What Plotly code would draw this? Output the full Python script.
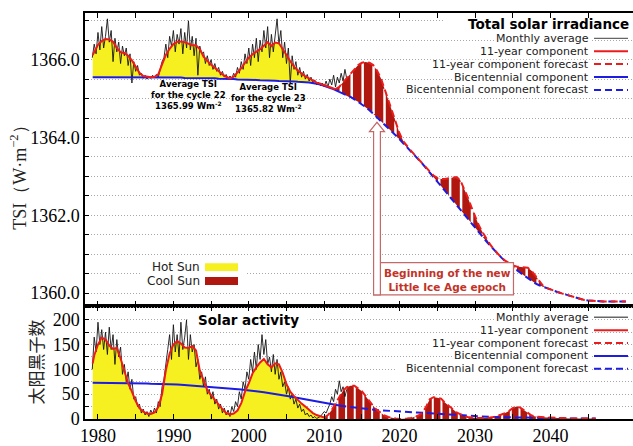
import numpy as np
import plotly.graph_objects as go

# ---------------- data ----------------
# Component curves sampled every half year (first sample at 1979.3)
comp_years = [1979.3] + [1979.5 + 0.5 * k for k in range(142)]          # -> 2050.0

tsi_11yr = [1366.12,
    1366.20, 1366.38, 1366.48, 1366.53, 1366.52, 1366.46, 1366.30, 1366.19, 1366.17, 1366.10,
    1365.98, 1365.80, 1365.66, 1365.58, 1365.56, 1365.55, 1365.56, 1365.62, 1365.88, 1366.12,
    1366.28, 1366.40, 1366.46, 1366.47, 1366.45, 1366.40, 1366.37, 1366.37, 1366.27, 1366.08,
    1365.97, 1365.87, 1365.79, 1365.70, 1365.62, 1365.56, 1365.52, 1365.56, 1365.66, 1365.78,
    1365.92, 1366.05, 1366.14, 1366.20, 1366.27, 1366.36, 1366.45, 1366.35, 1366.44, 1366.42,
    1366.28, 1366.12, 1365.96, 1365.82, 1365.72, 1365.64, 1365.57, 1365.52, 1365.46, 1365.41,
    1365.38, 1365.35, 1365.31, 1365.27, 1365.24, 1365.30, 1365.42, 1365.53, 1365.65, 1365.77,
    1365.86, 1365.92, 1365.94, 1365.92, 1365.86, 1365.72, 1365.53, 1365.25, 1364.95, 1364.65,
    1364.38, 1364.10, 1363.90, 1363.77, 1363.66, 1363.55, 1363.44, 1363.33, 1363.22, 1363.11,
    1363.02, 1362.96, 1362.93, 1362.93, 1362.95, 1362.97, 1362.98, 1362.92, 1362.72, 1362.48,
    1362.22, 1361.96, 1361.74, 1361.56, 1361.40, 1361.25, 1361.12, 1361.01, 1360.91, 1360.83,
    1360.76, 1360.71, 1360.68, 1360.67, 1360.67, 1360.65, 1360.57, 1360.44, 1360.30, 1360.19,
    1360.13, 1360.09, 1360.05, 1360.02, 1359.99, 1359.96, 1359.93, 1359.90, 1359.87, 1359.84,
    1359.82, 1359.81, 1359.80, 1359.79, 1359.79, 1359.78, 1359.78, 1359.78, 1359.78, 1359.78,
    1359.78, 1359.78]

tsi_bicent = [1365.55,
    1365.55, 1365.55, 1365.55, 1365.55, 1365.55, 1365.55, 1365.55, 1365.55, 1365.55, 1365.55,
    1365.55, 1365.55, 1365.55, 1365.55, 1365.55, 1365.54, 1365.54, 1365.54, 1365.54, 1365.54,
    1365.54, 1365.54, 1365.54, 1365.54, 1365.53, 1365.53, 1365.53, 1365.53, 1365.53, 1365.52,
    1365.52, 1365.52, 1365.52, 1365.51, 1365.51, 1365.50, 1365.50, 1365.50, 1365.49, 1365.49,
    1365.49, 1365.49, 1365.48, 1365.48, 1365.47, 1365.47, 1365.46, 1365.46, 1365.46, 1365.45,
    1365.45, 1365.45, 1365.44, 1365.44, 1365.43, 1365.43, 1365.42, 1365.41, 1365.40, 1365.38,
    1365.36, 1365.33, 1365.30, 1365.26, 1365.22, 1365.17, 1365.13, 1365.08, 1365.04, 1364.98,
    1364.92, 1364.85, 1364.78, 1364.70, 1364.61, 1364.52, 1364.43, 1364.33, 1364.24, 1364.14,
    1364.05, 1363.95, 1363.85, 1363.75, 1363.65, 1363.55, 1363.44, 1363.33, 1363.21, 1363.10,
    1362.98, 1362.86, 1362.75, 1362.63, 1362.51, 1362.39, 1362.27, 1362.15, 1362.03, 1361.91,
    1361.80, 1361.68, 1361.56, 1361.45, 1361.33, 1361.22, 1361.11, 1361.01, 1360.91, 1360.82,
    1360.74, 1360.66, 1360.59, 1360.52, 1360.45, 1360.38, 1360.31, 1360.25, 1360.20, 1360.16,
    1360.12, 1360.08, 1360.05, 1360.02, 1359.99, 1359.96, 1359.93, 1359.90, 1359.87, 1359.84,
    1359.82, 1359.81, 1359.80, 1359.79, 1359.79, 1359.78, 1359.78, 1359.78, 1359.78, 1359.78,
    1359.78, 1359.78]

ssn_years = [1979.3] + [1979.5 + 0.5 * k for k in range(134)]           # -> 2046.0

ssn_11yr = [112,
    128, 150, 164, 160, 148, 141, 143, 122, 95, 72,
    55, 36, 22, 15, 11, 10, 13, 24, 50, 98,
    132, 150, 157, 152, 144, 143, 147, 138, 98, 76,
    58, 48, 38, 29, 20, 12, 9, 11, 17, 32,
    55, 72, 92, 104, 114, 121, 110, 104, 112, 110,
    93, 70, 55, 46, 38, 31, 25, 18, 12, 8,
    5, 3, 8, 18, 32, 46, 57, 64, 67, 67,
    62, 56, 46, 35, 26, 18, 12, 7, 4, 2,
    1, 0, 0, 1, 2, 4, 7, 12, 24, 40,
    44, 43, 41, 33, 26, 19, 14, 10, 7, 4,
    3, 2, 2, 2, 2, 3, 4, 6, 9, 12,
    16, 22, 25, 23, 18, 12, 7, 5, 4, 3,
    3, 3, 2, 2, 2, 1, 1, 1, 1, 1,
    1, 1, 1, 1]

ssn_bicent = [73,
    73, 73, 73, 73, 73, 73, 73, 72.5, 72.5, 72.5,
    72, 72, 72, 71.5, 71.5, 71, 71, 71, 70.5, 70.5,
    70, 70, 69.5, 69, 68.5, 68, 67.5, 67, 66.5, 66,
    65.5, 65, 64.5, 64, 63, 62.5, 61.5, 61, 60, 59.5,
    58.5, 58, 57, 56, 55, 54, 53, 52, 50.5, 49.5,
    48, 47, 45.5, 44, 42.5, 41, 39.5, 38, 36.5, 35,
    33.5, 32, 31, 29.5, 28, 27, 26, 25, 24, 23,
    22, 21, 20.5, 19.5, 19, 18, 17.5, 17, 16.5, 16,
    15.5, 15, 14.5, 14, 13.5, 13, 12.5, 12, 12, 11.5,
    11, 10.5, 10, 9.5, 9, 8.5, 8, 7.5, 7, 6.5,
    6, 5.5, 5, 4.8, 4.5, 4.2, 4, 3.8, 3.5, 3.2,
    3, 2.8, 2.6, 2.4, 2.2, 2, 1.9, 1.8, 1.7, 1.6,
    1.5, 1.4, 1.3, 1.2, 1.1, 1, 1, 1, 1, 1,
    1, 1, 1, 1]

# Observed series, quarterly samples
month_years = [1979.25 + 0.25 * k for k in range(136)]                  # -> 2013.0

tsi_monthly = [
    1366.05, 1366.40, 1366.15,
    1366.70, 1366.25, 1366.85, 1366.30,
    1366.60, 1367.05, 1366.45, 1366.75,
    1365.95, 1366.55, 1366.20, 1366.45,
    1365.90, 1366.35, 1366.10, 1366.30,
    1365.85, 1366.15, 1365.40, 1365.95,
    1365.70, 1365.85, 1365.60, 1365.65,
    1365.52, 1365.60, 1365.50, 1365.58,
    1365.52, 1365.60, 1365.53, 1365.62,
    1365.55, 1365.75, 1365.95, 1366.05,
    1366.40, 1366.05, 1366.60, 1366.35,
    1366.75, 1366.20, 1366.65, 1366.40,
    1366.80, 1366.15, 1366.70, 1366.30,
    1367.00, 1366.25, 1366.60, 1366.10,
    1366.55, 1365.60, 1366.35, 1366.15,
    1366.20, 1365.90, 1366.10, 1365.85,
    1366.00, 1365.75, 1365.90, 1365.70,
    1365.80, 1365.60, 1365.70, 1365.55,
    1365.62, 1365.50, 1365.58, 1365.52,
    1365.65, 1365.55, 1365.80, 1365.65,
    1365.95, 1365.75, 1366.15, 1365.90,
    1366.30, 1365.85, 1366.40, 1366.05,
    1366.55, 1365.95, 1366.50, 1366.20,
    1366.75, 1366.30, 1366.85, 1366.05,
    1366.65, 1366.20, 1366.70, 1367.05,
    1366.40, 1366.75, 1366.05, 1366.45,
    1365.90, 1366.30, 1365.40, 1366.10,
    1365.75, 1365.95, 1365.60, 1365.80,
    1365.55, 1365.70, 1365.50, 1365.62,
    1365.45, 1365.55, 1365.40, 1365.48,
    1365.35, 1365.42, 1365.33, 1365.40,
    1365.30, 1365.45, 1365.30, 1365.50,
    1365.35, 1365.60, 1365.30, 1365.55,
    1365.40, 1365.65, 1365.45, 1365.75,
    1365.50]

ssn_monthly = [
    100, 165, 135,
    195, 150, 180, 140,
    175, 130, 185, 140,
    170, 110, 160, 125,
    145, 90, 110, 75,
    95, 60, 80, 40,
    45, 25, 30, 12,
    20, 8, 15, 5,
    18, 10, 22, 12,
    35, 25, 65, 80,
    115, 140, 170, 120,
    190, 135, 170, 125,
    195, 140, 165, 200,
    120, 170, 135, 150,
    105, 120, 80, 95,
    65, 85, 50, 60,
    40, 55, 30, 40,
    20, 30, 12, 22,
    8, 18, 5, 25,
    15, 35, 25, 55,
    40, 75, 60, 95,
    80, 120, 95, 135,
    100, 150, 120, 170,
    130, 160, 110, 125,
    95, 130, 90, 120,
    80, 95, 65, 75,
    50, 65, 40, 50,
    30, 40, 22, 30,
    15, 20, 8, 12,
    5, 8, 2, 5,
    1, 3, 5, 10,
    15, 12, 22, 30,
    45, 35, 60, 50,
    77, 55, 65, 45,
    60]

TSI_OBS_END = 2011.5       # end of the observed 11-year TSI component
SSN_OBS_END = 2010.0       # end of the observed 11-year sunspot component
BICENT_OBS_END = 2012.0    # end of the observed bicentennial component

cycle_notes = [
    ("Average TSI<br>for the cycle 22<br>1365.99 Wm<sup>-2</sup>"),
    ("Average TSI<br>for the cycle 23<br>1365.82 Wm<sup>-2</sup>"),
]

x_labels = [1980, 1990, 2000, 2010, 2020, 2030, 2040]
tsi_labels = [1360.0, 1362.0, 1364.0, 1366.0]
ssn_labels = [0, 50, 100, 150, 200]

# ---------------- styling ----------------
RED = "#ec1c1c"
BLUE = "#1c1ce2"
YELLOW = "#f6f020"
DARKRED = "#b0170f"
DASH = "7px,4px"
SERIF = "Liberation Serif"
SANS = "DejaVu Sans"
KEY_SIZE = 11
GRID = dict(gridcolor="#a8a8a8", griddash="1px,2px", gridwidth=1)

L, T, W, H = 85, 13, 548, 409          # plot area in pixels


def px(x):
    return (x - L) / W


def py(y):
    return (T + H - y) / H


SPLIT = py(308)

cy = np.array(comp_years)
sy = np.array(ssn_years)
tsi_r = np.array(tsi_11yr)
tsi_b = np.array(tsi_bicent)
ssn_r = np.array(ssn_11yr, dtype=float)
ssn_b = np.array(ssn_bicent, dtype=float)

t_obs = cy <= TSI_OBS_END + 1e-9
t_fc = cy >= TSI_OBS_END - 1e-9
tb_obs = cy <= BICENT_OBS_END + 1e-9
tb_fc = cy >= BICENT_OBS_END - 1e-9
s_obs = sy <= SSN_OBS_END + 1e-9
s_fc = sy >= SSN_OBS_END - 1e-9
sb_obs = sy <= BICENT_OBS_END + 1e-9
sb_fc = sy >= BICENT_OBS_END - 1e-9


def stripes(xs, top, bottom, start, stop, step, min_gap):
    sx, syy = [], []
    for s in np.arange(start, stop, step):
        t = float(np.interp(s, xs, top))
        b = float(np.interp(s, xs, bottom))
        if t - b > min_gap:
            sx += [s, s, None]
            syy += [b, t, None]
    return sx, syy


fig = go.Figure()


def line(x, y, color, width, dash="solid", xa="x", ya="y", fill=None, fillcolor=None):
    fig.add_trace(go.Scatter(
        x=list(x), y=list(y), mode="lines", xaxis=xa, yaxis=ya,
        line=dict(color=color, width=width, dash=dash),
        fill=fill, fillcolor=fillcolor, hoverinfo="skip", showlegend=False))


# ---- Total solar irradiance panel ----
# hot sun: between bicentennial and 11-year components (observed)
line(cy[t_obs], tsi_b[t_obs], "rgba(0,0,0,0)", 0)
line(cy[t_obs], tsi_r[t_obs], "rgba(0,0,0,0)", 0, fill="tonexty", fillcolor=YELLOW)
# cool sun: forecast excess
line(cy[t_fc], tsi_b[t_fc], "rgba(0,0,0,0)", 0)
line(cy[t_fc], tsi_r[t_fc], "rgba(0,0,0,0)", 0, fill="tonexty", fillcolor=DARKRED)
stx, sty = stripes(cy, tsi_r, tsi_b, 2012.2, 2050, 1.45, 0.03)
line(stx, sty, "white", 2.5)
line(month_years, tsi_monthly, "#151515", 0.9)
line(cy[tb_obs], tsi_b[tb_obs], BLUE, 2)
line(cy[tb_fc], tsi_b[tb_fc], BLUE, 2, DASH)
line(cy[t_obs], tsi_r[t_obs], RED, 2)
line(cy[t_fc], tsi_r[t_fc], RED, 2, DASH)

# ---- Solar activity panel ----
line(sy[s_obs], ssn_r[s_obs], "rgba(0,0,0,0)", 0, xa="x2", ya="y2", fill="tozeroy", fillcolor=YELLOW)
line(sy[s_fc], ssn_r[s_fc], "rgba(0,0,0,0)", 0, xa="x2", ya="y2", fill="tozeroy", fillcolor=DARKRED)
stx2, sty2 = stripes(sy, ssn_r, np.zeros_like(ssn_r), 2010.6, 2046, 1.15, 3)
line(stx2, sty2, "white", 2, xa="x2", ya="y2")
line(month_years, ssn_monthly, "#151515", 0.9, xa="x2", ya="y2")
line(sy[sb_obs], ssn_b[sb_obs], BLUE, 2, xa="x2", ya="y2")
line(sy[sb_fc], ssn_b[sb_fc], BLUE, 2, DASH, xa="x2", ya="y2")
line(sy[s_obs], ssn_r[s_obs], RED, 2, xa="x2", ya="y2")
line(sy[s_fc], ssn_r[s_fc], RED, 2, DASH, xa="x2", ya="y2")

# ---------------- axes ----------------
x_common = dict(
    range=[1978.28, 2050.95], tickmode="array", tickvals=x_labels,
    showgrid=False, zeroline=False,
    ticks="inside", ticklen=5, tickwidth=1.3, tickcolor="black",
    minor=dict(tick0=1985, dtick=10, ticks="inside", ticklen=5, tickwidth=1.3,
               tickcolor="black", showgrid=False),
    showline=True, linecolor="black", linewidth=1.5, mirror="allticks",
    tickfont=dict(family=SERIF, size=18, color="black"))
y_common = dict(
    showgrid=True, zeroline=False, tickmode="array",
    ticks="inside", ticklen=4, tickwidth=1.2, tickcolor="black",
    showline=True, linecolor="black", linewidth=1.5, mirror=False,
    tickfont=dict(family=SERIF, size=18, color="black"), **GRID)

fig.update_layout(
    width=633, height=446, margin=dict(l=L, r=0, t=T, b=446 - T - H),
    paper_bgcolor="white", plot_bgcolor="white", showlegend=False,
    xaxis=dict(x_common, domain=[0, 1], anchor="y", showticklabels=False),
    yaxis=dict(y_common, domain=[SPLIT, 1], anchor="x", range=[1359.67, 1367.2],
               tickvals=tsi_labels, tickformat=".1f",
               minor=dict(tick0=1360, dtick=0.5, ticks="inside", ticklen=4, tickwidth=1.2,
                          tickcolor="black", showgrid=True, **GRID)),
    xaxis2=dict(x_common, domain=[0, 1], anchor="y2"),
    yaxis2=dict(y_common, domain=[0, SPLIT], anchor="x2", range=[0, 228],
                tickvals=ssn_labels,
                minor=dict(tick0=0, dtick=25, ticks="inside", ticklen=4, tickwidth=1.2,
                           tickcolor="black", showgrid=True, **GRID)),
)

shapes = []
annotations = []

# axis titles
annotations.append(dict(x=px(19), y=py(175), xref="paper", yref="paper", showarrow=False,
                        xanchor="center", yanchor="middle",
                        text="TSI（W·m<sup>−2</sup>）", textangle=-90,
                        font=dict(family=SERIF, size=18, color="#222")))
annotations.append(dict(x=px(35), y=py(365), xref="paper", yref="paper", showarrow=False,
                        xanchor="center", yanchor="middle",
                        text="太阳黑子数", textangle=-90,
                        font=dict(family="Noto Sans CJK SC", size=17, color="#222")))


def mask(x_right, yc, text_w, h=9):
    """White strip behind a right-aligned key label so grid dots stop at the text."""
    shapes.append(dict(type="rect", xref="paper", yref="paper",
                       x0=px(x_right - text_w - 2), x1=px(x_right + 1),
                       y0=py(yc + h / 2), y1=py(yc - h / 2),
                       line=dict(width=0), fillcolor="white", layer="above"))


# legends on the right of each panel
legend_rows = [
    ("Monthly average", "#666666", "solid", 1.3),
    ("11-year component", RED, "solid", 2),
    ("11-year component forecast", RED, DASH, 2),
    ("Bicentennial component", BLUE, "solid", 2),
    ("Bicentennial component forecast", BLUE, DASH, 2),
]


def add_legend(title, title_x, title_y, title_anchor, y0, dy):
    tw = len(title) * 0.62 * 13.5
    if title_anchor == "right":
        mask(title_x, title_y, tw, 12)
    else:
        mask(title_x + tw / 2, title_y, tw, 12)
    annotations.append(dict(x=px(title_x), y=py(title_y), xref="paper", yref="paper",
                            showarrow=False, xanchor=title_anchor, yanchor="middle",
                            text=f"<b>{title}</b>",
                            font=dict(family=SANS, size=13.5, color="black")))
    for i, (label, color, dash, width) in enumerate(legend_rows):
        yc = y0 + dy * i
        mask(590, yc, len(label) * 0.56 * KEY_SIZE)
        annotations.append(dict(x=px(590), y=py(yc), xref="paper", yref="paper", showarrow=False,
                                xanchor="right", yanchor="middle", text=label, borderpad=0,
                                font=dict(family=SANS, size=KEY_SIZE, color="#222")))
        shapes.append(dict(type="line", xref="paper", yref="paper", x0=px(594), x1=px(628),
                           y0=py(yc), y1=py(yc), line=dict(color=color, width=width, dash=dash)))


add_legend("Total solar irradiance", 631, 24, "right", 38.5, 13)
add_legend("Solar activity", 248, 322, "center", 319.5, 13)

# hot / cool sun key
shapes.append(dict(type="rect", xref="paper", yref="paper", x0=px(140), x1=px(245),
                   y0=py(291), y1=py(261), line=dict(width=0), fillcolor="white"))
for label, color, yc in [("Hot Sun", YELLOW, 269), ("Cool Sun", DARKRED, 283)]:
    annotations.append(dict(x=px(201), y=py(yc), xref="paper", yref="paper", showarrow=False,
                            xanchor="right", yanchor="middle", text=label, borderpad=0,
                            font=dict(family=SANS, size=12, color="#222")))
    shapes.append(dict(type="rect", xref="paper", yref="paper", x0=px(205), x1=px(238),
                       y0=py(yc + 4), y1=py(yc - 4), line=dict(width=0), fillcolor=color))

# cycle averages
for text, xc, yc in zip(cycle_notes, [188, 268], [96, 99]):
    annotations.append(dict(x=px(xc), y=py(yc), xref="paper", yref="paper", showarrow=False,
                            xanchor="center", yanchor="middle", align="center",
                            text=f"<b>{text}</b>",
                            font=dict(family=SANS, size=8.5, color="black")))

# little ice age marker: box plus hollow arrow pointing at the bicentennial curve
ARROW_X = 2017.0
tip = float(np.interp(ARROW_X, cy, tsi_b)) - 0.13
head = tip - 0.24
base = 1359.95
hs, hh = 0.45, 1.0
BOX_EDGE = "#c46868"
shapes.append(dict(type="rect", xref="x", yref="y", x0=ARROW_X - hs, x1=2035.1,
                   y0=base, y1=1360.78, line=dict(color=BOX_EDGE, width=1.2), fillcolor="white"))
shapes.append(dict(type="path", xref="x", yref="y",
                   path=(f"M {ARROW_X - hs},{base} L {ARROW_X - hs},{head} L {ARROW_X - hh},{head} "
                         f"L {ARROW_X},{tip} L {ARROW_X + hh},{head} L {ARROW_X + hs},{head} "
                         f"L {ARROW_X + hs},{base} Z"),
                   line=dict(color=BOX_EDGE, width=1.2), fillcolor="white"))
annotations.append(dict(x=2026.3, y=1360.33, xref="x", yref="y", showarrow=False,
                        text="<b>Beginning of the new<br>Little Ice Age epoch</b>",
                        font=dict(family=SANS, size=10.5, color="#c23328")))

fig.update_layout(shapes=shapes, annotations=annotations)
fig.write_html("out.html")
